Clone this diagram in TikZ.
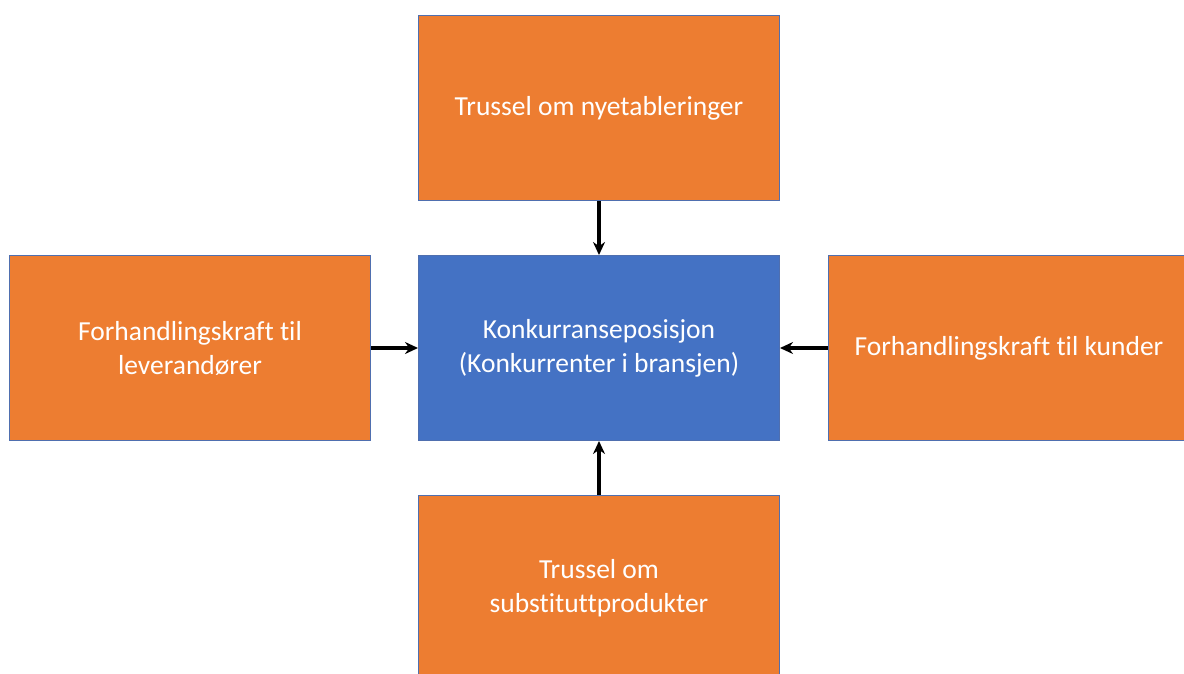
\documentclass[tikz,border=0pt]{standalone}
\usepackage{fontspec}
\setmainfont{Carlito}[Ligatures={NoCommon}]
\usetikzlibrary{arrows.meta}
\definecolor{boxorange}{HTML}{ED7D31}
\definecolor{boxblue}{HTML}{4472C4}
\definecolor{boxedge}{HTML}{4F6FAF}
\begin{document}
\begin{tikzpicture}[x=1pt,y=-1pt,
  forcebox/.style={draw=boxedge, line width=1pt, fill=boxorange, minimum width=361pt, minimum height=185pt,
    text=white, align=center, font=\fontsize{27.5}{34}\selectfont, inner sep=0pt, anchor=north west},
  corebox/.style={forcebox, fill=boxblue},
  conn/.style={-{Stealth[length=13pt,width=12pt]}, line width=3.2pt, black}]
\useasboundingbox (0,0) rectangle (1184,673);
\clip (0,0) rectangle (1184,673);
\node[forcebox] (top) at (418,15) {Trussel om nyetableringer};
\node[corebox] (mid) at (418,255) {Konkurranseposisjon\\(Konkurrenter i bransjen)};
\node[forcebox] (left) at (9,255) {Forhandlingskraft til\\leverandører};
\node[forcebox] (right) at (828,255) {Forhandlingskraft til kunder};
\node[forcebox] (bottom) at (418,495) {Trussel om\\substituttprodukter};
\draw[conn] (top.south) -- (mid.north);
\draw[conn] (bottom.north) -- (mid.south);
\draw[conn] (left.east) -- (mid.west);
\draw[conn] (right.west) -- (mid.east);
\end{tikzpicture}
\end{document}
